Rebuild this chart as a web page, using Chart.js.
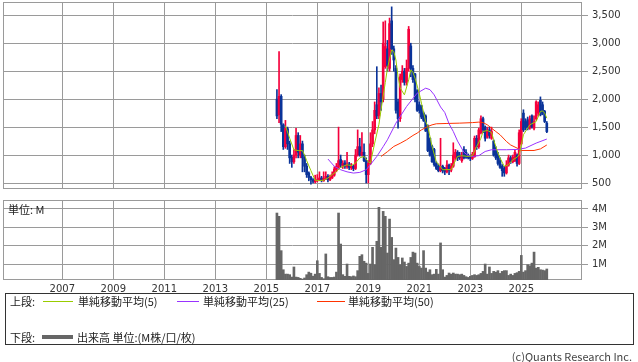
<!DOCTYPE html>
<html><head><meta charset="utf-8">
<script src="https://cdn.jsdelivr.net/npm/chart.js@4/dist/chart.umd.min.js"></script>
<style>
body{margin:0;background:#fff;width:638px;height:362px;overflow:hidden;position:relative;font-family:"Noto Sans CJK JP","Noto Sans",sans-serif;color:#333}
canvas{position:absolute;left:0}
.t{position:absolute;font-size:11px;line-height:14px;white-space:nowrap;color:#222}
.ln{position:absolute;height:1px}
</style></head><body>
<canvas id="c1" width="638" height="190" style="top:0"></canvas>
<canvas id="c2" width="638" height="100" style="top:198px"></canvas>
<div class="t" style="left:8px;top:202px">単位: M</div>
<div style="position:absolute;left:5px;top:293px;width:627px;height:50px;border:1px solid #333"></div>
<div class="t" style="left:10px;top:294px">上段:</div>
<div class="ln" style="left:43px;top:301px;width:30px;background:#99cc00"></div>
<div class="t" style="left:78px;top:294px">単純移動平均(5)</div>
<div class="ln" style="left:177px;top:301px;width:22px;background:#9933ff"></div>
<div class="t" style="left:203px;top:294px">単純移動平均(25)</div>
<div class="ln" style="left:317px;top:301px;width:28px;background:#ff3300"></div>
<div class="t" style="left:348px;top:294px">単純移動平均(50)</div>
<div class="t" style="left:10px;top:330px">下段:</div>
<div class="ln" style="left:42px;top:335px;width:31px;height:4px;background:#666"></div>
<div class="t" style="left:77px;top:330px">出来高 単位:(M株/口/枚)</div>
<div class="t" style="right:6px;top:349px;color:#444">(c)Quants Research Inc.</div>
<script>
// ---- data (monthly) ----
const months = [
'2015-06','2015-07','2015-08','2015-09','2015-10','2015-11','2015-12',
'2016-01','2016-02','2016-03','2016-04','2016-05','2016-06','2016-07','2016-08','2016-09','2016-10','2016-11','2016-12',
'2017-01','2017-02','2017-03','2017-04','2017-05','2017-06','2017-07','2017-08','2017-09','2017-10','2017-11','2017-12',
'2018-01','2018-02','2018-03','2018-04','2018-05','2018-06','2018-07','2018-08','2018-09','2018-10','2018-11','2018-12',
'2019-01','2019-02','2019-03','2019-04','2019-05','2019-06','2019-07','2019-08','2019-09','2019-10','2019-11','2019-12',
'2020-01','2020-02','2020-03','2020-04','2020-05','2020-06','2020-07','2020-08','2020-09','2020-10','2020-11','2020-12',
'2021-01','2021-02','2021-03','2021-04','2021-05','2021-06','2021-07','2021-08','2021-09','2021-10','2021-11','2021-12',
'2022-01','2022-02','2022-03','2022-04','2022-05','2022-06','2022-07','2022-08','2022-09','2022-10','2022-11','2022-12',
'2023-01','2023-02','2023-03','2023-04','2023-05','2023-06','2023-07','2023-08','2023-09','2023-10','2023-11','2023-12',
'2024-01','2024-02','2024-03','2024-04','2024-05','2024-06','2024-07','2024-08','2024-09','2024-10','2024-11','2024-12',
'2025-01','2025-02','2025-03','2025-04','2025-05','2025-06','2025-07','2025-08','2025-09','2025-10','2025-11','2025-12',
'2026-01'];
const opens = [2000,1720,2050,1540,1150,1470,1200,
960,880,1000,1350,1000,1200,950,800,680,600,560,520,
540,550,590,540,580,620,560,590,640,740,780,920,
800,860,790,840,770,800,760,1000,1150,1000,1050,900,
650,850,1200,1450,1900,1700,2100,2000,2580,2900,2550,3400,
2900,2550,1950,1650,2350,2500,2300,2550,2950,2550,2450,2150,
1900,1880,1750,1700,1520,1300,1150,1100,850,800,720,800,
760,700,820,730,800,950,1050,1000,900,1100,1050,980,
990,940,970,1300,1150,1400,1650,1500,1320,1450,1300,1250,
1100,1000,900,800,760,680,820,950,880,900,1000,850,
1200,1750,1600,1630,1480,1700,1480,1650,1750,1980,1900,1780,
1570];
const highs = [2170,2850,2080,1560,1620,1500,1250,
1000,1100,1480,1400,1350,1250,1000,850,700,620,580,640,
650,700,620,700,700,650,640,700,790,850,1500,1000,
900,900,1050,870,850,820,1100,1450,1300,1400,1200,950,
900,1400,1600,1950,2580,2200,2250,3380,3400,3050,3450,3650,
2950,2600,2000,2450,2600,2550,2700,3300,3000,2600,2460,2170,
1950,1890,1770,1720,1540,1310,1180,1120,880,840,1300,820,
780,900,840,850,1220,1100,1080,1050,1050,1150,1100,1020,
1000,1050,1340,1350,1480,1700,1680,1520,1500,1500,1500,1270,
1150,1050,950,830,800,900,1000,980,1000,1100,1020,1450,
1650,1810,1650,1680,1700,1720,1700,1970,1950,2040,1950,1800,
1600];
const lows = [1650,1580,1420,1100,1120,1100,850,
780,850,950,950,950,700,700,600,540,480,500,500,
520,540,520,530,560,520,540,580,620,700,760,780,
760,760,760,740,740,720,740,980,980,980,880,500,
500,830,1150,1380,1650,1650,1800,1950,2550,2500,2500,2800,
2500,1750,1480,1600,2300,2250,2250,2500,2400,2300,1950,1780,
1750,1650,1600,1420,1060,980,870,800,740,700,700,680,
650,680,650,700,780,920,900,920,870,930,940,930,
900,920,960,1100,1120,1380,1400,1250,1300,1300,1280,980,
920,820,760,620,620,660,800,850,860,880,800,830,
1180,1420,1450,1450,1460,1480,1450,1620,1700,1700,1720,1580,
1400];
const closes = [1700,2050,1550,1150,1480,1200,950,
880,1000,1350,1050,1200,950,800,650,600,560,530,550,
560,590,550,580,620,560,600,650,750,800,900,820,
850,800,840,780,800,760,1000,1150,1000,1050,900,650,
850,1200,1450,1800,1700,2100,1950,3000,2940,2600,3350,2900,
2700,1800,1650,2400,2500,2300,2550,3250,2550,2350,2000,1800,
1800,1680,1620,1430,1080,1000,880,830,760,720,780,720,
700,820,730,800,1000,1050,950,950,1000,950,960,950,
940,1010,1300,1150,1450,1650,1450,1300,1450,1350,1420,1000,
950,850,780,720,680,820,950,880,960,1050,850,1400,
1600,1450,1500,1480,1650,1500,1600,1950,1900,1720,1750,1600,
1420];
const volumesM = [3.78,3.6,1.73,0.69,0.45,0.45,0.42,
0.29,0.84,0.29,0.27,0.22,0.18,0.24,0.42,0.56,0.5,0.34,0.45,
1.18,0.49,0.27,0.2,1.55,0.31,0.27,0.27,0.29,0.56,3.78,2.09,
0.42,0.33,1.0,0.33,0.31,0.35,0.31,0.64,1.42,1.51,1.15,1.05,
0.49,1.0,1.91,0.96,2.24,4.09,1.91,3.87,3.6,1.6,3.45,2.45,
1.24,1.87,1.36,0.96,1.33,1.11,0.87,1.05,1.36,1.65,1.6,1.05,
0.87,0.78,1.73,0.78,0.56,0.69,0.42,0.45,0.71,0.45,2.15,0.69,
0.29,0.38,0.51,0.45,0.51,0.45,0.45,0.42,0.45,0.38,0.31,0.27,
0.33,0.38,0.42,0.38,0.42,0.49,0.6,1.0,0.45,0.84,0.49,0.6,
0.56,0.64,0.49,0.6,0.64,0.64,0.38,0.45,0.38,0.49,0.53,0.6,
1.47,0.56,0.64,0.96,0.91,1.05,1.65,0.78,0.82,0.69,0.67,0.64,
0.73];
const ma5Months = ['2015-10','2015-12','2016-02','2016-04','2016-06','2016-07','2016-08','2016-10','2016-12','2017-02','2017-04','2017-06','2017-08','2017-10','2017-12','2018-03','2018-05','2018-07','2018-09','2018-11','2019-01','2019-02','2019-04','2019-06','2019-07','2019-09','2019-10','2019-12','2020-01','2020-02','2020-03','2020-04','2020-06','2020-08','2020-09','2020-10','2020-11','2021-01','2021-02','2021-04','2021-05','2021-07','2021-09','2021-11','2021-12','2022-02','2022-04','2022-06','2022-07','2022-09','2022-12','2023-02','2023-04','2023-06','2023-07','2023-09','2023-11','2023-12','2024-02','2024-03','2024-05','2024-07','2024-09','2024-11','2024-12','2025-02','2025-05','2025-07','2025-08','2025-10','2025-11','2025-12','2026-01'];
const ma5Values = [1523,1300,1095,1080,1080,1000,900,720,550,545,550,590,650,707,780,827,810,857,950,975,880,857,1214,1550,1809,2300,2550,2880,2850,2700,2404,2200,2077,2345,2523,2480,2375,2100,1929,1600,1511,1154,880,790,737,740,740,900,975,988,975,990,1154,1300,1421,1440,1404,1273,1036,946,796,830,916,960,1005,1363,1541,1580,1600,1779,1790,1750,1660];
const ma25Months = ['2017-06','2017-09','2017-12','2018-03','2018-06','2018-09','2018-12','2019-02','2019-05','2019-08','2019-10','2020-02','2020-07','2020-12','2021-04','2021-06','2021-08','2021-11','2022-01','2022-03','2022-05','2022-07','2022-10','2022-12','2023-02','2023-05','2023-08','2023-11','2024-06','2024-11','2025-03','2025-08','2026-01'];
const ma25Values = [929,800,737,700,678,690,737,830,975,1150,1273,1571,1868,2107,2196,2170,2077,1860,1760,1560,1421,1250,1050,990,975,990,1064,1095,1095,1100,1125,1214,1286];
const ma50Months = ['2019-07','2019-10','2020-01','2020-04','2020-07','2020-10','2020-12','2021-02','2021-05','2021-07','2021-09','2022-02','2022-08','2023-02','2023-05','2023-07','2023-09','2023-11','2024-01','2024-03','2024-06','2024-08','2024-11','2025-01','2025-07','2025-10','2026-01'];
const ma50Values = [975,1060,1154,1210,1273,1350,1393,1450,1511,1540,1559,1565,1571,1580,1589,1580,1541,1480,1421,1363,1243,1180,1125,1082,1082,1110,1180];
const yearTicks = [2007,2009,2011,2013,2015,2017,2019,2021,2023,2025];
const priceTicks = [500,1000,1500,2000,2500,3000,3500];
const volumeTicks = [1,2,3,4];

// ---- styling ----
const UP='#f5003c', DOWN='#0a3399', GRID='#9a9a9a', TXT='#333';
const X_MIN=2004.6745, X_MAX=2027.3804;
const tickFont={family:'DejaVu Sans',size:10};
function toX(m){const p=m.split('-').map(Number);return p[0]+(p[1]-1)/12;}
const xs=months.map(toX);
const cols=months.map((_,i)=>closes[i]>=opens[i]?UP:DOWN);
const frame={id:'frame',beforeDatasetsDraw(ch){const c=ch.ctx,a=ch.chartArea;c.save();c.strokeStyle=GRID;c.lineWidth=1;
 c.strokeRect(Math.round(a.left)+0.5,Math.round(a.top)+0.5,Math.round(a.right)-Math.round(a.left)-1,Math.round(a.bottom)-Math.round(a.top)-1);c.restore();}};
function noPad(s){s.paddingTop=0;s.paddingBottom=0;s.paddingLeft=0;s.paddingRight=0;}
function xScale(showLabels){return {type:'linear',min:X_MIN,max:X_MAX,offset:false,
 grid:{color:GRID,drawTicks:false,offset:false},border:{display:false},
 afterBuildTicks:s=>{s.ticks=yearTicks.map(v=>({value:v}));},
 ticks:{display:showLabels,autoSkip:false,maxRotation:0,padding:3,font:tickFont,color:TXT,callback:v=>String(v)},
 afterFit:s=>{s.height=showLabels?18:0;noPad(s);}};}
function yScale(min,max,ticksArr,fmt){return {position:'right',min:min,max:max,grid:{color:GRID,tickLength:6},border:{display:false},
 afterBuildTicks:s=>{s.ticks=ticksArr.map(v=>({value:v}));},
 ticks:{padding:4,font:tickFont,color:TXT,callback:fmt},
 afterFit:s=>{s.width=56;noPad(s);}};}
function line(ms,vs,color){return {type:'line',data:ms.map((m,i)=>({x:toX(m),y:vs[i]})),borderColor:color,borderWidth:1,pointRadius:0,tension:0,order:1};}
Chart.defaults.animation=false;
new Chart(document.getElementById('c1'),{
 type:'bar',
 data:{datasets:[
  line(ma5Months,ma5Values,'#99cc00'),
  line(ma25Months,ma25Values,'#9933ff'),
  line(ma50Months,ma50Values,'#ff3300'),
  {type:'bar',data:xs.map((x,i)=>({x:x,y:[lows[i],highs[i]]})),backgroundColor:cols,barThickness:1,grouped:false,order:3},
  {type:'bar',data:xs.map((x,i)=>({x:x,y:[opens[i],closes[i]]})),backgroundColor:cols,barThickness:2,grouped:false,order:2}
 ]},
 options:{responsive:false,devicePixelRatio:1,events:[],
  layout:{padding:{left:3,top:2,right:0,bottom:1}},
  plugins:{legend:{display:false},tooltip:{enabled:false}},
  scales:{x:xScale(false),y:yScale(393,3737,priceTicks,v=>v.toLocaleString('en-US'))}},
 plugins:[frame]});
new Chart(document.getElementById('c2'),{
 type:'bar',
 data:{datasets:[{data:xs.map((x,i)=>({x:x,y:volumesM[i]})),backgroundColor:'#666666',barThickness:2,grouped:false}]},
 options:{responsive:false,devicePixelRatio:1,events:[],
  layout:{padding:{left:3,top:2,right:0,bottom:0}},
  plugins:{legend:{display:false},tooltip:{enabled:false}},
  scales:{x:xScale(true),y:yScale(0.13,4.49,volumeTicks,v=>v+'M')}},
 plugins:[frame]});
</script></body></html>
